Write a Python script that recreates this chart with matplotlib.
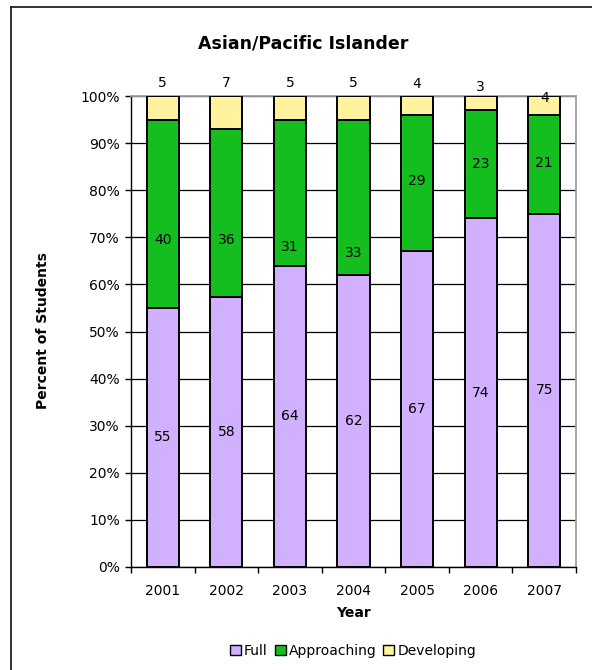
import matplotlib
matplotlib.use("Agg")
import matplotlib.pyplot as plt
from matplotlib.patches import Patch
from matplotlib.lines import Line2D
import numpy as np

years = ["2001", "2002", "2003", "2004", "2005", "2006", "2007"]
full = [55, 58, 64, 62, 67, 74, 75]
approaching = [40, 36, 31, 33, 29, 23, 21]
developing = [5, 7, 5, 5, 4, 3, 4]

# label placement tweaks (percent of bar height) copied from the original layout
approach_label_y = [69.4, 69.4, 67.9, 66.7, 82.0, 85.6, 85.8]
develop_label_y = [102.8, 102.8, 102.8, 102.8, 102.6, 101.9, 99.6]

C_FULL = "#D0B0FF"
C_APPR = "#14BE1E"
C_DEV = "#FFF3A0"

plt.rcParams["font.family"] = "DejaVu Sans"

fig = plt.figure(figsize=(5.92, 6.70), dpi=100)
ax = fig.add_axes([131 / 592, 1 - 567 / 670, 445 / 592, 471 / 670])

f = np.array(full, float)
a = np.array(approaching, float)
d = np.array(developing, float)
tot = f + a + d
fp, ap, dp = f / tot * 100, a / tot * 100, d / tot * 100

x = np.arange(len(years))
w = 0.505
kw = dict(width=w, edgecolor="black", linewidth=1.4, zorder=3)
ax.bar(x, fp, color=C_FULL, **kw)
ax.bar(x, ap, bottom=fp, color=C_APPR, **kw)
ax.bar(x, dp, bottom=fp + ap, color=C_DEV, **kw)

for i in range(len(years)):
    ax.text(x[i], fp[i] / 2, str(full[i]), ha="center", va="center", fontsize=10, zorder=4)
    ax.text(x[i], approach_label_y[i], str(approaching[i]), ha="center", va="center", fontsize=10, zorder=4)
    ax.text(x[i], develop_label_y[i], str(developing[i]), ha="center", va="center", fontsize=10, zorder=4, clip_on=False)

ax.set_xlim(-0.5, len(years) - 0.5)
ax.set_ylim(0, 100)
ax.set_yticks(np.arange(0, 101, 10))
ax.set_yticklabels([f"{v}%" for v in range(0, 101, 10)], fontsize=10)
ax.set_xticks(x)
ax.set_xticklabels(years, fontsize=10)
ax.set_xticks(np.arange(-0.5, len(years), 1), minor=True)
ax.tick_params(axis="x", which="major", length=0, pad=12)
ax.tick_params(axis="x", which="minor", length=4, direction="out", width=1)
ax.tick_params(axis="y", length=4, direction="out", width=1, pad=4)
ax.yaxis.grid(True, color="black", linewidth=0.9, zorder=0)
ax.set_axisbelow(True)
for s in ["top", "right"]:
    ax.spines[s].set_color("#a0a0a0")
    ax.spines[s].set_linewidth(1.3)
for s in ["left", "bottom"]:
    ax.spines[s].set_color("black")
    ax.spines[s].set_linewidth(1.0)

fig.text(303 / 592, 1 - 43 / 670, "Asian/Pacific Islander", ha="center", va="center",
         fontsize=12.5, fontweight="bold")
fig.text(43 / 592, 1 - 331 / 670, "Percent of Students", ha="center", va="center",
         rotation=90, fontsize=10, fontweight="bold")
fig.text(353 / 592, 1 - 613 / 670, "Year", ha="center", va="center",
         fontsize=10, fontweight="bold")

handles = [Patch(facecolor=c, edgecolor="black", linewidth=1) for c in (C_FULL, C_APPR, C_DEV)]
fig.legend(handles, ["Full", "Approaching", "Developing"], loc="center",
           bbox_to_anchor=(353 / 592, 1 - 651 / 670), ncol=3, frameon=False, fontsize=10,
           handlelength=0.8, handleheight=0.8, handletextpad=0.2, columnspacing=0.5)

# outer chart border (only left and top visible)
fig.add_artist(Line2D([10.5 / 592, 10.5 / 592], [0, 1 - 6.5 / 670], color="#222222", linewidth=1.3))
fig.add_artist(Line2D([10.5 / 592, 1], [1 - 6.5 / 670, 1 - 6.5 / 670], color="#222222", linewidth=1.3))

fig.savefig("out.png", dpi=100)
